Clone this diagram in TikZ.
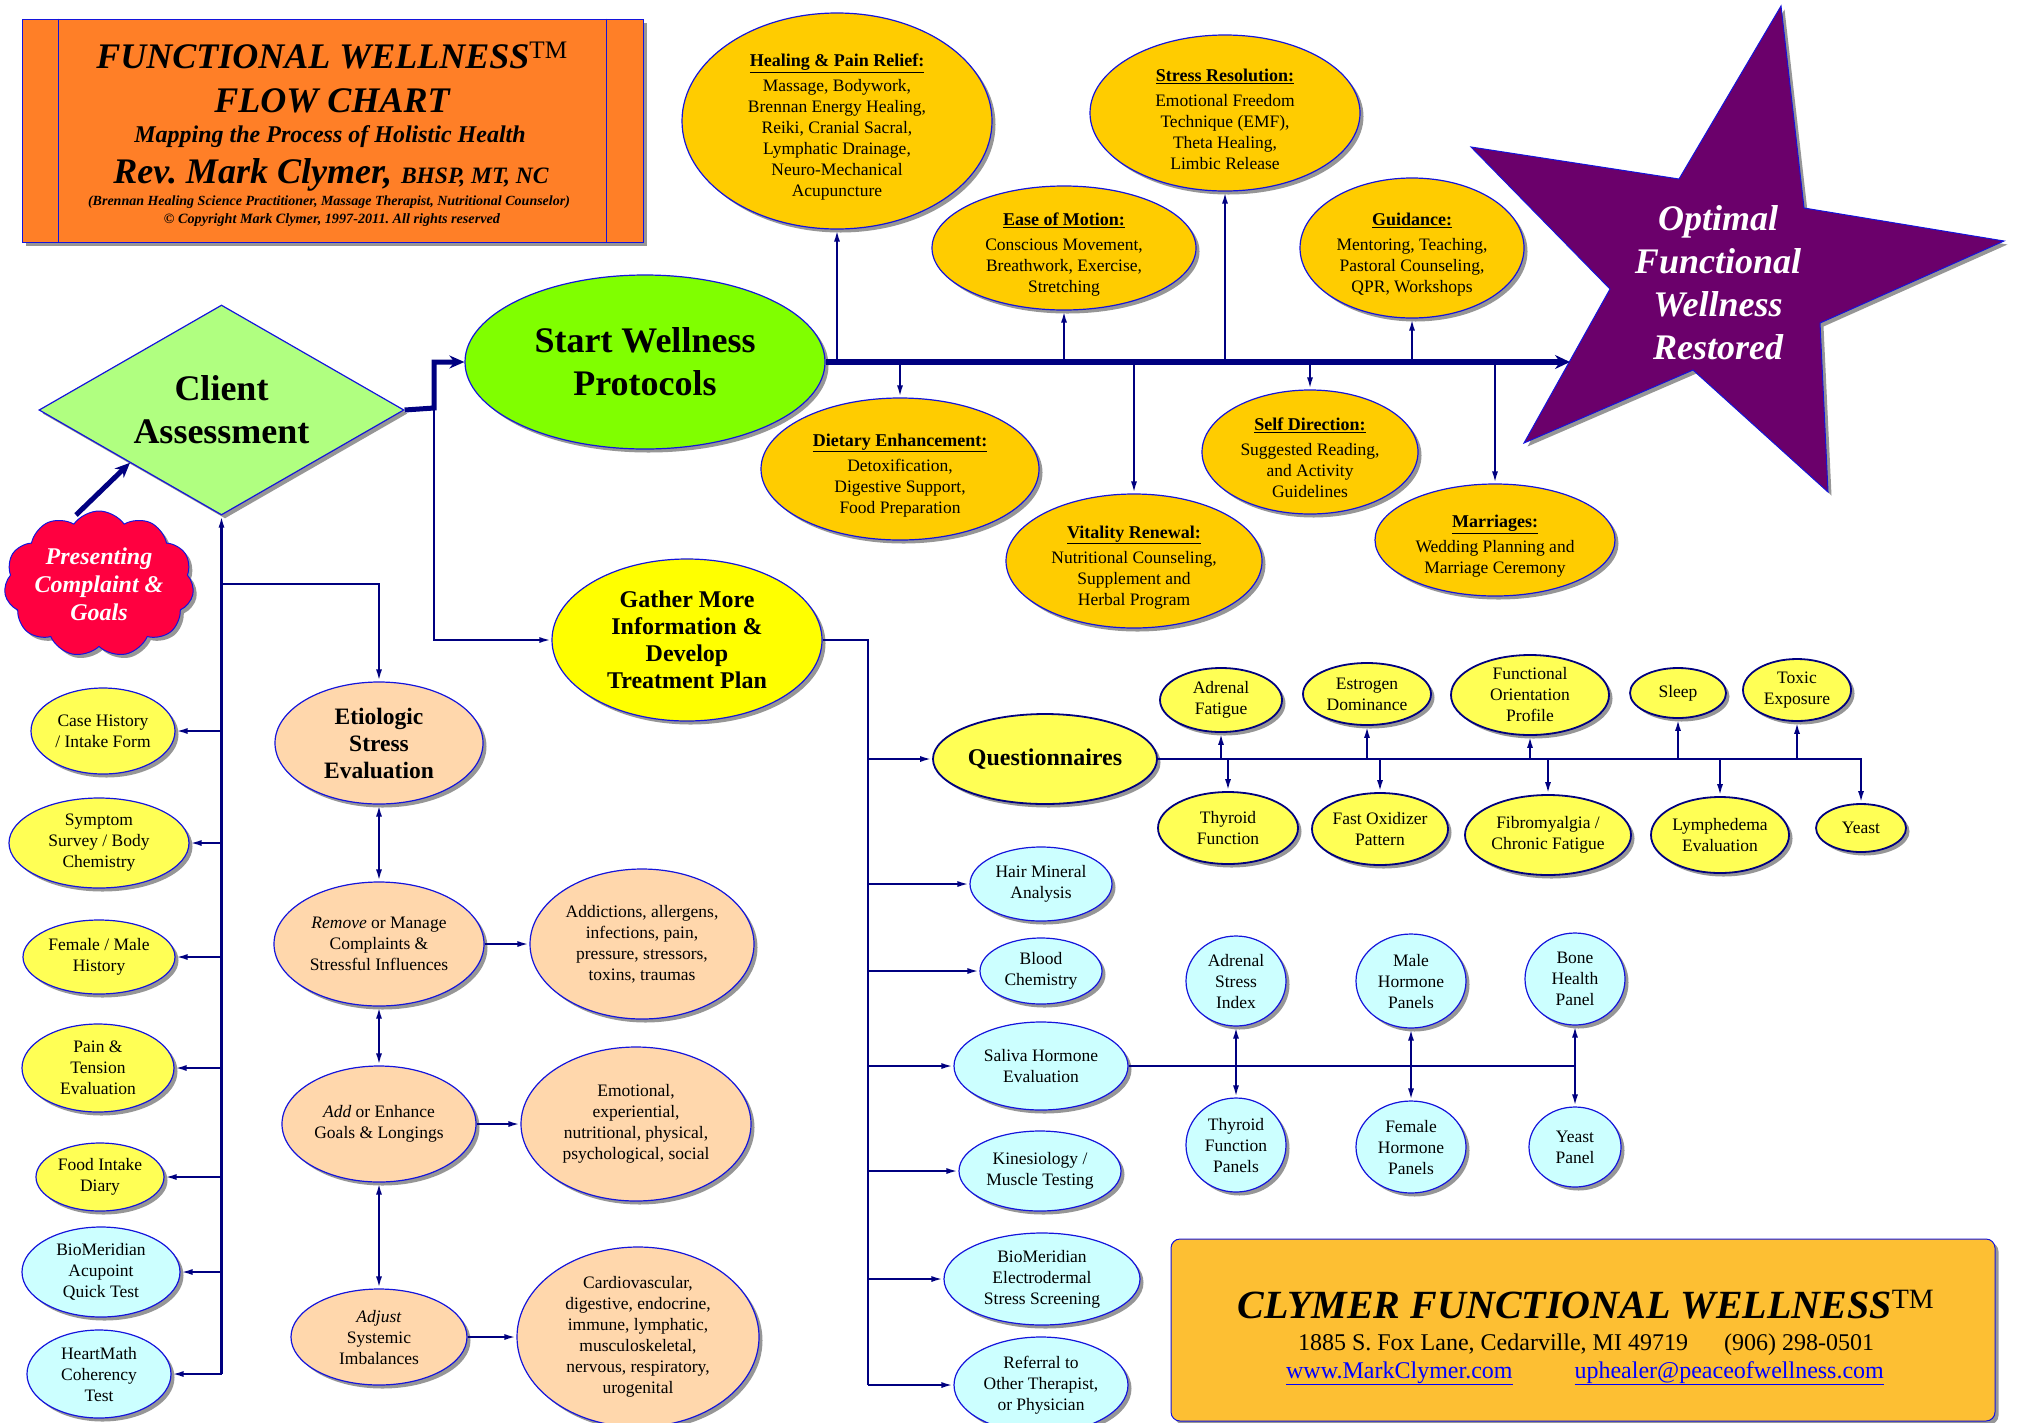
\documentclass[tikz,border=0pt]{standalone}
\usepackage{fontspec}
\setmainfont{Liberation Serif}
\usetikzlibrary{shapes.geometric,shapes.symbols,shadows,arrows.meta,calc}

\definecolor{navy}{RGB}{0,0,128}
\definecolor{edgeblue}{RGB}{20,20,220}
\definecolor{linkblue}{RGB}{0,0,255}
\definecolor{titleorange}{RGB}{255,127,39}
\definecolor{protoorange}{RGB}{255,204,0}
\definecolor{startgreen}{RGB}{128,255,0}
\definecolor{assessgreen}{RGB}{176,255,128}
\definecolor{gatheryellow}{RGB}{255,255,0}
\definecolor{quizyellow}{RGB}{255,255,85}
\definecolor{labcyan}{RGB}{204,255,255}
\definecolor{peach}{RGB}{255,215,172}
\definecolor{cloudred}{RGB}{255,0,64}
\definecolor{starpurple}{RGB}{107,0,107}
\definecolor{boxgold}{RGB}{253,191,51}
\definecolor{shadowgray}{RGB}{150,150,150}

\newcommand{\protohead}[1]{{\rule{0pt}{25pt}\fontsize{18}{21}\selectfont\bfseries\underline{#1}}\\[4pt]}

\tikzset{
  dropsh/.style={drop shadow={shadow xshift=3.5pt,shadow yshift=-3.5pt,fill=shadowgray,opacity=1}},
  wh/.style 2 args={minimum width=#1,minimum height=#2},
  oval/.style={ellipse,inner sep=0pt,align=center,draw=edgeblue,line width=1.2pt,dropsh,
    font=\fontsize{17.5}{21}\selectfont},
  proto/.style={oval,fill=protoorange,inner ysep=-6pt},
  quiz/.style={oval,fill=quizyellow,draw=navy,line width=1.8pt},
  intake/.style={oval,fill=quizyellow},
  lab/.style={oval,fill=labcyan},
  stressov/.style={oval,fill=peach},
  wire/.style={draw=navy,line width=2.2pt},
  conn/.style={wire,-{Latex[length=12pt,width=6pt]}},
  conn2/.style={wire,{Latex[length=12pt,width=6pt]}-{Latex[length=12pt,width=6pt]}},
  heavy/.style={draw=navy,line width=5pt,-{Stealth[length=15pt,width=13pt,inset=5pt]}},
  bus/.style={draw=navy,line width=6pt,-{Stealth[length=15pt,width=14pt,inset=5pt]}},
}

\begin{document}
\begin{tikzpicture}[x=1pt,y=-1pt]
  \useasboundingbox (0,0) rectangle (2017,1422);

  % Title box
  \node[dropsh,fill=titleorange,draw=edgeblue,line width=1pt,wh={621}{223}] (titlebox) at (332.5,130.5) {};
  \draw[edgeblue,line width=0.8pt] ([xshift=37pt]titlebox.north west) -- ([xshift=37pt]titlebox.south west);
  \draw[edgeblue,line width=0.8pt] ([xshift=-37pt]titlebox.north east) -- ([xshift=-37pt]titlebox.south east);
  \node[anchor=base,font=\bfseries\itshape\fontsize{36}{36}\selectfont] (titleA) at (332,68) {FUNCTIONAL WELLNESS\textsuperscript{\upshape\mdseries TM}};
  \node[anchor=base,font=\bfseries\itshape\fontsize{36}{36}\selectfont] (titleB) at (332,112) {FLOW CHART};
  \node[anchor=base,font=\bfseries\itshape\fontsize{24}{24}\selectfont] (titleC) at (330,142) {Mapping the Process of Holistic Health};
  \node[anchor=base,font=\bfseries\itshape\fontsize{36}{36}\selectfont] (titleD) at (331,183) {Rev.\ Mark Clymer, {\fontsize{23.5}{23.5}\selectfont BHSP, MT, NC}};
  \node[anchor=base,font=\bfseries\itshape\fontsize{14}{14}\selectfont] (titleE) at (329,205) {(Brennan Healing Science Practitioner, Massage Therapist, Nutritional Counselor)};
  \node[anchor=base,font=\bfseries\itshape\fontsize{14.2}{14}\selectfont] (titleF) at (332,223) {\textcopyright{} Copyright Mark Clymer, 1997-2011.\ All rights reserved};

  % Assessment and start
  \node[diamond,aspect=1.74,inner sep=0pt,wh={365}{210},fill=assessgreen,draw=edgeblue,line width=1.2pt,dropsh,
    align=center,font=\bfseries\fontsize{36}{43}\selectfont] (assess) at (221.5,410) {Client\\Assessment};
  \node[cloud,cloud puffs=11,cloud puff arc=110,cloud ignores aspect,inner sep=0pt,wh={178}{146},fill=cloudred,
    draw=edgeblue,line width=1pt,dropsh,align=center,text=white,font=\bfseries\itshape\fontsize{24}{28}\selectfont] (cloud) at (99,584) {Presenting\\Complaint \&\\Goals};
  \node[oval,fill=startgreen,wh={360}{174},font=\bfseries\fontsize{36}{43}\selectfont] (protocols) at (645,362) {Start Wellness\\Protocols};
  \node[oval,fill=gatheryellow,wh={270}{162},font=\bfseries\fontsize{24}{27}\selectfont] (gather) at (687,640) {Gather More\\Information \&\\Develop\\Treatment Plan};

  % Star
  \filldraw[dropsh,fill=starpurple,draw=edgeblue,line width=1pt] (1781,6) -- (1804,208) -- (2004,241) -- (1820,323) -- (1828,492)
    -- (1693,370) -- (1524,443) -- (1610,289) -- (1471,147) -- (1679,179) -- cycle;
  \node[align=center,text=white,font=\bfseries\itshape\fontsize{36}{43}\selectfont] (optimal) at (1718,283) {Optimal\\Functional\\Wellness\\Restored};

  % Protocols
  \node[proto,wh={310}{216}] (healing) at (837,121) {\protohead{Healing \& Pain Relief:}Massage, Bodywork,\\Brennan Energy Healing,\\Reiki, Cranial Sacral,\\Lymphatic Drainage,\\Neuro-Mechanical\\Acupuncture};
  \node[proto,wh={264}{124}] (ease) at (1064,248) {\protohead{Ease of Motion:}Conscious Movement,\\Breathwork, Exercise,\\Stretching};
  \node[proto,wh={270}{156}] (stressres) at (1225,113) {\protohead{Stress Resolution:}Emotional Freedom\\Technique (EMF),\\Theta Healing,\\Limbic Release};
  \node[proto,wh={224}{140}] (guidance) at (1412,248) {\protohead{Guidance:}Mentoring, Teaching,\\Pastoral Counseling,\\QPR, Workshops};
  \node[proto,wh={278}{142}] (dietary) at (900,469) {\protohead{Dietary Enhancement:}Detoxification,\\Digestive Support,\\Food Preparation};
  \node[proto,wh={256}{134}] (vitality) at (1134,561) {\protohead{Vitality Renewal:}Nutritional Counseling,\\Supplement and\\Herbal Program};
  \node[proto,wh={216}{124}] (selfdir) at (1310,452) {\protohead{Self Direction:}Suggested Reading,\\and Activity\\Guidelines};
  \node[proto,wh={240}{112}] (marriages) at (1495,540) {\protohead{Marriages:}Wedding Planning and\\Marriage Ceremony};

  % Intake column
  \node[intake,wh={144}{86}] (casehist) at (103,731) {Case History\\/ Intake Form};
  \node[intake,wh={180}{90}] (symptom) at (99,843) {Symptom\\Survey / Body\\Chemistry};
  \node[intake,wh={152}{74}] (femalemale) at (99,957) {Female / Male\\History};
  \node[intake,wh={152}{88}] (pain) at (98,1068) {Pain \&\\Tension\\Evaluation};
  \node[intake,wh={128}{68}] (food) at (100,1177) {Food Intake\\Diary};
  \node[lab,wh={158}{90}] (biomerA) at (101,1272) {BioMeridian\\Acupoint\\Quick Test};
  \node[lab,wh={144}{88}] (heartmath) at (99,1374) {HeartMath\\Coherency\\Test};

  % Stress column
  \node[stressov,wh={208}{122},font=\bfseries\fontsize{23.5}{27}\selectfont] (etiologic) at (379,743) {Etiologic\\Stress\\Evaluation};
  \node[stressov,wh={210}{124}] (remove) at (379,944) {\textit{Remove} or Manage\\Complaints \&\\Stressful Influences};
  \node[stressov,wh={194}{116}] (addenh) at (379,1124) {\textit{Add} or Enhance\\Goals \& Longings};
  \node[stressov,wh={176}{96}] (adjust) at (379,1337) {\textit{Adjust}\\Systemic\\Imbalances};
  \node[stressov,wh={224}{150}] (addictions) at (642,944) {Addictions, allergens,\\infections, pain,\\pressure, stressors,\\toxins, traumas};
  \node[stressov,wh={230}{154}] (emotional) at (636,1124) {Emotional,\\experiential,\\nutritional, physical,\\psychological, social};
  \node[stressov,wh={242}{180}] (cardio) at (638,1337) {Cardiovascular,\\digestive, endocrine,\\immune, lymphatic,\\musculoskeletal,\\nervous, respiratory,\\urogenital};

  % Questionnaires
  \node[quiz,wh={224}{90},font=\bfseries\fontsize{24}{27}\selectfont] (quest) at (1045,759) {Questionnaires};
  \node[quiz,wh={122}{64}] (adrenalF) at (1221,700) {Adrenal\\Fatigue};
  \node[quiz,wh={128}{62}] (estrogen) at (1367,694) {Estrogen\\Dominance};
  \node[quiz,wh={158}{80}] (funcorient) at (1530,695) {Functional\\Orientation\\Profile};
  \node[quiz,wh={96}{50}] (sleep) at (1678,693) {Sleep};
  \node[quiz,wh={108}{62}] (toxic) at (1797,690) {Toxic\\Exposure};
  \node[quiz,wh={140}{72}] (thyroidF) at (1228,828) {Thyroid\\Function};
  \node[quiz,wh={136}{72}] (fastox) at (1380,829) {Fast Oxidizer\\Pattern};
  \node[quiz,wh={166}{80}] (fibro) at (1548,835) {Fibromyalgia /\\Chronic Fatigue};
  \node[quiz,wh={138}{76}] (lymph) at (1720,835) {Lymphedema\\Evaluation};
  \node[quiz,wh={90}{48}] (yeastQ) at (1861,828) {Yeast};

  % Lab tests
  \node[lab,wh={142}{74}] (hair) at (1041,884) {Hair Mineral\\Analysis};
  \node[lab,wh={122}{66}] (blood) at (1041,971) {Blood\\Chemistry};
  \node[lab,wh={174}{88}] (saliva) at (1041,1066) {Saliva Hormone\\Evaluation};
  \node[lab,wh={162}{80}] (kines) at (1040,1171) {Kinesiology /\\Muscle Testing};
  \node[lab,wh={196}{92}] (biomerE) at (1042,1279) {BioMeridian\\Electrodermal\\Stress Screening};
  \node[lab,wh={174}{96}] (referral) at (1041,1385) {Referral to\\Other Therapist,\\or Physician};
  \node[lab,wh={100}{90}] (adrenalS) at (1236,981) {Adrenal\\Stress\\Index};
  \node[lab,wh={100}{94}] (thyroidP) at (1236,1145) {Thyroid\\Function\\Panels};
  \node[lab,wh={110}{94}] (maleH) at (1411,981) {Male\\Hormone\\Panels};
  \node[lab,wh={110}{92}] (femaleH) at (1411,1147) {Female\\Hormone\\Panels};
  \node[lab,wh={100}{92}] (bone) at (1575,979) {Bone\\Health\\Panel};
  \node[lab,wh={92}{80}] (yeastP) at (1575,1147) {Yeast\\Panel};

  % Contact box
  \node[rectangle,rounded corners=9pt,fill=boxgold,draw=edgeblue,line width=1pt,dropsh,wh={824}{182}] (contact) at (1583,1330) {};
  \node[anchor=base,font=\bfseries\itshape\fontsize{40}{40}\selectfont] (contactA) at (1586,1318) {CLYMER FUNCTIONAL WELLNESS\textsuperscript{\upshape\mdseries TM}};
  \node[anchor=base,font=\fontsize{24}{24}\selectfont] (contactB) at (1586,1350) {1885 S. Fox Lane, Cedarville, MI 49719\hspace{36pt}(906) 298-0501};
  \node[anchor=base,font=\fontsize{24}{24}\selectfont,text=linkblue] (contactC) at (1585,1378) {\underline{www.MarkClymer.com}\hspace{62pt}\underline{uphealer@peaceofwellness.com}};

  % Connectors
  \coordinate (fork) at (434,408);
  \coordinate (cloudtip) at (76,515);
  \coordinate (etiotap) at (221,584);
  \coordinate (labtrunk) at (868,641);
  \coordinate (busend) at (1570,362);

  \draw[heavy] (cloudtip) -- (assess.south west);
  \draw[heavy] (assess.east) -- (fork) |- (protocols.west);
  \draw[conn] (fork) |- (gather.west);

  \draw[bus] (protocols.east) -- (busend);
  \foreach \n in {healing,ease,stressres,guidance}
    \draw[conn] (\n.south |- busend) -- (\n.south);
  \foreach \n in {dietary,vitality,selfdir,marriages}
    \draw[conn] (\n.north |- busend) -- (\n.north);

  \draw[conn] (assess.south |- heartmath.east) -- (assess.south);
  \foreach \n in {casehist,symptom,femalemale,pain,food,biomerA,heartmath}
    \draw[conn] (assess.south |- \n.east) -- (\n.east);

  \draw[conn] (etiotap) -| (etiologic.north);
  \draw[conn2] (etiologic) -- (remove);
  \draw[conn2] (remove) -- (addenh);
  \draw[conn2] (addenh) -- (adjust);
  \draw[conn] (remove) -- (addictions);
  \draw[conn] (addenh) -- (emotional);
  \draw[conn] (adjust) -- (cardio);

  \draw[wire] (gather.east) -| (labtrunk |- referral.west);
  \foreach \n in {quest,hair,blood,saliva,kines,biomerE,referral}
    \draw[conn] (labtrunk |- \n.west) -- (\n.west);

  \draw[conn] (quest.east) -| (yeastQ.north);
  \foreach \n in {adrenalF,estrogen,funcorient,sleep,toxic}
    \draw[conn] (\n.south |- quest.east) -- (\n.south);
  \foreach \n in {thyroidF,fastox,fibro,lymph}
    \draw[conn] (\n.north |- quest.east) -- (\n.north);

  \draw[wire] (saliva.east) -- (bone.south |- saliva.east);
  \foreach \n in {adrenalS,maleH,bone}
    \draw[conn] (\n.south |- saliva.east) -- (\n.south);
  \foreach \n in {thyroidP,femaleH,yeastP}
    \draw[conn] (\n.north |- saliva.east) -- (\n.north);
\end{tikzpicture}
\end{document}
